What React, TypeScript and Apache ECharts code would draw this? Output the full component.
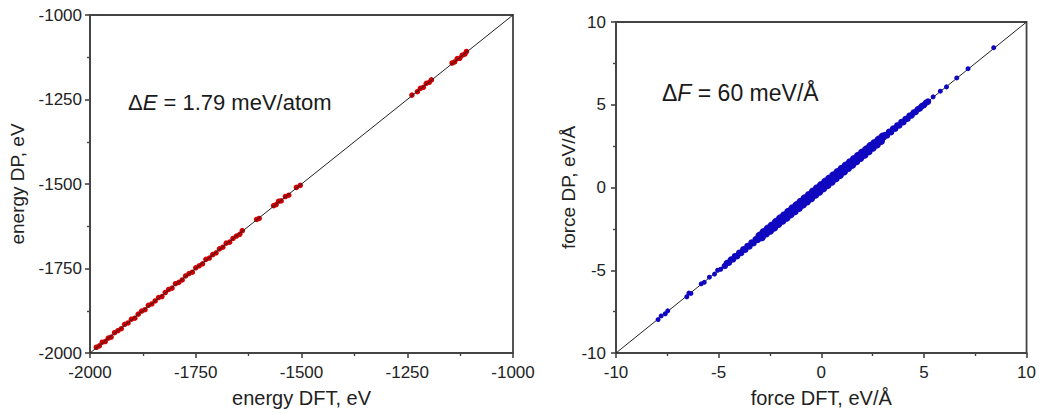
import React, { useEffect, useRef } from "react";
import * as echarts from "echarts";

const energyTicks = [-2000, -1750, -1500, -1250, -1000];
const forceTicks = [-10, -5, 0, 5, 10];

const energyDFT = [
  -1985, -1978, -1971, -1964, -1957, -1950, -1942, -1934, -1926, -1918, -1910, -1902, -1894, -1886, -1878,
  -1870, -1862, -1854, -1846, -1838, -1830, -1822, -1814, -1806, -1798, -1790, -1782, -1774, -1766, -1758,
  -1750, -1742, -1734, -1726, -1718, -1710, -1702, -1694, -1686, -1678, -1670, -1662, -1654, -1646, -1640,
  -1606, -1600, -1566, -1560, -1554, -1548, -1538, -1530, -1512, -1503,
  -1239, -1226, -1219, -1212, -1205, -1198, -1193,
  -1144, -1138, -1132, -1126, -1120, -1114, -1110,
];
const energyDP = [
  -1983, -1979, -1968, -1966, -1956, -1953, -1940, -1934, -1928, -1915, -1911, -1900, -1897, -1885, -1876,
  -1872, -1859, -1855, -1846, -1836, -1833, -1821, -1812, -1808, -1795, -1791, -1784, -1772, -1765, -1761,
  -1748, -1742, -1736, -1723, -1719, -1709, -1704, -1692, -1687, -1675, -1672, -1661, -1654, -1649, -1638,
  -1605, -1602, -1564, -1561, -1551, -1550, -1537, -1533, -1510, -1504,
  -1237, -1227, -1217, -1214, -1202, -1199, -1192,
  -1142, -1139, -1129, -1128, -1119, -1116, -1108,
];

const forceCoreDFT = [
  -3.0, -2.9, -2.8, -2.7, -2.6, -2.5, -2.4, -2.3, -2.2, -2.1, -2.0, -1.9, -1.8, -1.7, -1.6, -1.5,
  -1.4, -1.3, -1.2, -1.1, -1.0, -0.9, -0.8, -0.7, -0.6, -0.5, -0.4, -0.3, -0.2, -0.1, 0.0,
  0.1, 0.2, 0.3, 0.4, 0.5, 0.6, 0.7, 0.8, 0.9, 1.0, 1.1, 1.2, 1.3, 1.4, 1.5,
  1.6, 1.7, 1.8, 1.9, 2.0, 2.1, 2.2, 2.3, 2.4, 2.5, 2.6, 2.7, 2.8, 2.9, 3.0,
];
const forceCoreDP = [
  -2.92, -2.99, -2.7, -2.77, -2.5, -2.6, -2.31, -2.41, -2.09, -2.19, -1.88, -2.0, -1.69, -1.82, -1.48, -1.61,
  -1.27, -1.42, -1.08, -1.23, -0.87, -1.02, -0.66, -0.83, -0.47, -0.64, -0.26, -0.43, -0.06, -0.24, 0.14,
  -0.03, 0.34, 0.16, 0.53, 0.36, 0.73, 0.57, 0.92, 0.77, 1.12, 0.98, 1.32, 1.19, 1.51, 1.38,
  1.71, 1.6, 1.91, 1.8, 2.1, 1.99, 2.29, 2.2, 2.5, 2.41, 2.68, 2.61, 2.88, 2.82, 3.07,
];
const forceMidDFT = [
  -4.7, -4.6, -4.5, -4.4, -4.3, -4.2, -4.1, -4.0, -3.9, -3.8, -3.7, -3.6, -3.5, -3.4, -3.3, -3.2, -3.1,
  3.1, 3.2, 3.3, 3.4, 3.5, 3.6, 3.7, 3.8, 3.9, 4.0, 4.1, 4.2, 4.3, 4.4, 4.5, 4.6, 4.7, 4.8, 4.9, 5.0, 5.1, 5.2,
];
const forceMidDP = [
  -4.74, -4.56, -4.54, -4.35, -4.34, -4.15, -4.15, -3.94, -3.95, -3.74, -3.76, -3.54, -3.56, -3.33, -3.37, -3.13, -3.17,
  3.17, 3.14, 3.36, 3.34, 3.56, 3.55, 3.75, 3.75, 3.95, 3.95, 4.14, 4.16, 4.34, 4.36, 4.53, 4.57, 4.73, 4.78, 4.92, 4.98, 5.12, 5.19,
];
const forceSparseDFT = [
  -7.95, -7.8, -7.6, -7.48, -6.55, -6.45, -6.35, -5.85, -5.7, -5.45, -5.2, -5.05, -4.9,
  5.45, 5.8, 6.1, 6.6, 7.15, 8.4,
];
const forceSparseDP = [
  -7.98, -7.76, -7.63, -7.45, -6.6, -6.38, -6.4, -5.82, -5.73, -5.42, -5.23, -5.0, -4.94,
  5.48, 5.82, 6.08, 6.62, 7.18, 8.45,
];

const FONT = "'Liberation Sans', Arial, sans-serif";
const BLUE = "#1008c0";
const pair = (a: number[], b: number[]) => a.map((v, i) => [v, b[i]]);

export default function App() {
  const ref = useRef<HTMLDivElement>(null);
  useEffect(() => {
    if (!ref.current) return;
    const chart = echarts.init(ref.current, null, { renderer: "svg" });
    const axisCommon = (ticks: number[], margin: number, nameSize: number) => ({
      type: "value" as const,
      min: ticks[0],
      max: ticks[ticks.length - 1],
      interval: ticks[1] - ticks[0],
      splitLine: { show: false },
      axisLine: { show: true, onZero: false, lineStyle: { color: "#444", width: 1.8 } },
      axisTick: { show: true, length: 5, lineStyle: { color: "#444", width: 1.6 } },
      minorTick: { show: true, splitNumber: 2, length: 3, lineStyle: { color: "#444", width: 1.4 } },
      axisLabel: {
        color: "#222", fontSize: 17, fontFamily: FONT, margin,
        formatter: (v: number) => String(v),
      },
      nameLocation: "middle" as const,
      nameTextStyle: { color: "#222", fontSize: nameSize, fontFamily: FONT },
    });
    chart.setOption({
      animation: false,
      backgroundColor: "#fff",
      grid: [
        { left: 90, right: 526, top: 15, bottom: 58, show: true, borderColor: "#444", borderWidth: 1.8 },
        { left: 616, right: 11, top: 22, bottom: 58, show: true, borderColor: "#444", borderWidth: 1.8 },
      ],
      xAxis: [
        { ...axisCommon(energyTicks, 11, 20), gridIndex: 0, name: "energy DFT, eV", nameGap: 35 },
        { ...axisCommon(forceTicks, 11, 20), gridIndex: 1, name: "force DFT, eV/Å", nameGap: 35 },
      ],
      yAxis: [
        { ...axisCommon(energyTicks, 8, 19), gridIndex: 0, name: "energy DP, eV", nameGap: 63 },
        { ...axisCommon(forceTicks, 10, 19), gridIndex: 1, name: "force DP, eV/Å", nameGap: 35 },
      ],
      series: [
        {
          type: "scatter", xAxisIndex: 0, yAxisIndex: 0, symbol: "circle", symbolSize: 5.5,
          itemStyle: { color: "#d00000", opacity: 1 }, data: pair(energyDFT, energyDP), z: 2,
        },
        {
          type: "line", xAxisIndex: 0, yAxisIndex: 0, symbol: "none",
          lineStyle: { color: "#222", width: 1 },
          data: [[energyTicks[0], energyTicks[0]], [energyTicks[4], energyTicks[4]]], z: 3,
        },
        {
          type: "line", xAxisIndex: 1, yAxisIndex: 1, symbol: "none",
          lineStyle: { color: "#222", width: 1 },
          data: [[forceTicks[0], forceTicks[0]], [forceTicks[4], forceTicks[4]]], z: 1,
        },
        {
          type: "scatter", xAxisIndex: 1, yAxisIndex: 1, symbol: "circle", symbolSize: 8.5,
          itemStyle: { color: BLUE, opacity: 1 }, data: pair(forceCoreDFT, forceCoreDP), z: 2,
        },
        {
          type: "scatter", xAxisIndex: 1, yAxisIndex: 1, symbol: "circle", symbolSize: 6.5,
          itemStyle: { color: BLUE, opacity: 1 }, data: pair(forceMidDFT, forceMidDP), z: 2,
        },
        {
          type: "scatter", xAxisIndex: 1, yAxisIndex: 1, symbol: "circle", symbolSize: 5,
          itemStyle: { color: BLUE, opacity: 1 }, data: pair(forceSparseDFT, forceSparseDP), z: 2,
        },
      ],
      graphic: [
        {
          type: "text", left: 128, top: 91,
          style: {
            text: "{a|Δ}{i|E}{a| = 1.79 meV/atom}",
            rich: {
              a: { fontSize: 22, fontFamily: FONT, fill: "#1a1a1a" },
              i: { fontSize: 22, fontFamily: FONT, fontStyle: "italic", fill: "#1a1a1a" },
            },
          },
        },
        {
          type: "text", left: 662, top: 81,
          style: {
            text: "{a|Δ}{i|F}{a| = 60 meV/Å}",
            rich: {
              a: { fontSize: 23, fontFamily: FONT, fill: "#1a1a1a" },
              i: { fontSize: 23, fontFamily: FONT, fontStyle: "italic", fill: "#1a1a1a" },
            },
          },
        },
      ],
    });
    return () => chart.dispose();
  }, []);
  return (
    <div
      ref={ref}
      style={{ position: "fixed", left: 0, top: 0, width: 1039, height: 413, background: "#fff" }}
    />
  );
}
